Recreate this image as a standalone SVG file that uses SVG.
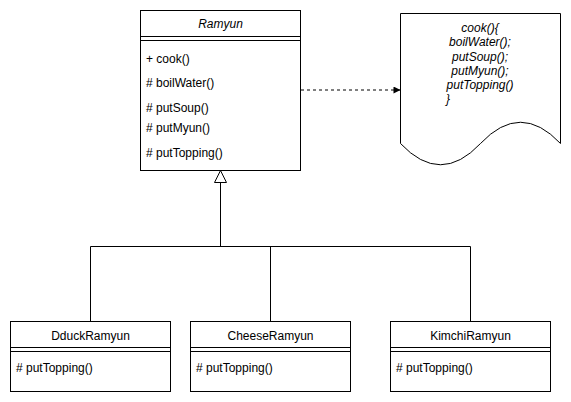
<svg xmlns="http://www.w3.org/2000/svg" width="571" height="402" viewBox="0 0 571 402">
<style>
.box{fill:#fff;stroke:#000;stroke-width:1}
.ln{fill:none;stroke:#000;stroke-width:1}
.t{font-family:"Liberation Sans",Arial,sans-serif;font-size:12px;fill:#000}
.c{text-anchor:middle}
.i{font-style:italic}
</style>
<defs>
<marker id="blk" viewBox="0 0 10 10" refX="10" refY="5" markerWidth="8" markerHeight="7" markerUnits="userSpaceOnUse" orient="auto">
<path d="M0,0 L10,5 L0,10 Z" fill="#000"/>
</marker>
</defs>
<rect width="571" height="402" fill="#fff"/>
<g id="connectors">
<line class="ln" x1="301" y1="90" x2="400.5" y2="90" stroke-dasharray="3 3" marker-end="url(#blk)"/>
<polyline class="ln" points="220.5,182.5 220.5,246.5"/>
<polyline class="ln" points="90.5,321.5 90.5,246.5 470.5,246.5 470.5,321.5"/>
<line class="ln" x1="270.5" y1="246.5" x2="270.5" y2="321.5"/>
<polygon points="220.5,170.5 214.5,182.5 226.5,182.5" fill="#fff" stroke="#000"/>
</g>
<g id="Ramyun">
<rect class="box" x="140.5" y="10.5" width="160" height="160"/>
<line class="ln" x1="140.5" y1="36.5" x2="300.5" y2="36.5"/>
<line class="ln" x1="140.5" y1="40.5" x2="300.5" y2="40.5"/>
<text class="t c i" x="220.5" y="28">Ramyun</text>
<text class="t" x="146" y="63">+ cook()</text>
<text class="t" x="146" y="87">#&#160;boilWater()</text>
<text class="t" x="146" y="112">#&#160;putSoup()</text>
<text class="t" x="146" y="131.5">#&#160;putMyun()</text>
<text class="t" x="146" y="156.5">#&#160;putTopping()</text>
</g>
<g id="note">
<path class="box" d="M400.5,13.5 L560.5,13.5 L560.5,143.5 Q520.5,101 480.5,143.5 Q440.5,186 400.5,143.5 Z"/>
<text class="t c i" x="480" y="32">cook(){</text>
<text class="t c i" x="480" y="46.3">boilWater();</text>
<text class="t c i" x="480" y="60.6">putSoup();</text>
<text class="t c i" x="480" y="74.9">putMyun();</text>
<text class="t c i" x="480" y="89.2">putTopping()</text>
<text class="t i" x="446" y="103.2">}</text>
</g>
<g id="DduckRamyun">
<rect class="box" x="10.5" y="321.5" width="160" height="70"/>
<line class="ln" x1="10.5" y1="347.5" x2="170.5" y2="347.5"/>
<line class="ln" x1="10.5" y1="351.5" x2="170.5" y2="351.5"/>
<text class="t c" x="90.5" y="340">DduckRamyun</text>
<text class="t" x="16" y="372">#&#160;putTopping()</text>
</g>
<g id="CheeseRamyun">
<rect class="box" x="190.5" y="321.5" width="160" height="70"/>
<line class="ln" x1="190.5" y1="347.5" x2="350.5" y2="347.5"/>
<line class="ln" x1="190.5" y1="351.5" x2="350.5" y2="351.5"/>
<text class="t c" x="270.5" y="340">CheeseRamyun</text>
<text class="t" x="196" y="372">#&#160;putTopping()</text>
</g>
<g id="KimchiRamyun">
<rect class="box" x="390.5" y="321.5" width="160" height="70"/>
<line class="ln" x1="390.5" y1="347.5" x2="550.5" y2="347.5"/>
<line class="ln" x1="390.5" y1="351.5" x2="550.5" y2="351.5"/>
<text class="t c" x="470.5" y="340">KimchiRamyun</text>
<text class="t" x="396" y="372">#&#160;putTopping()</text>
</g>
</svg>
